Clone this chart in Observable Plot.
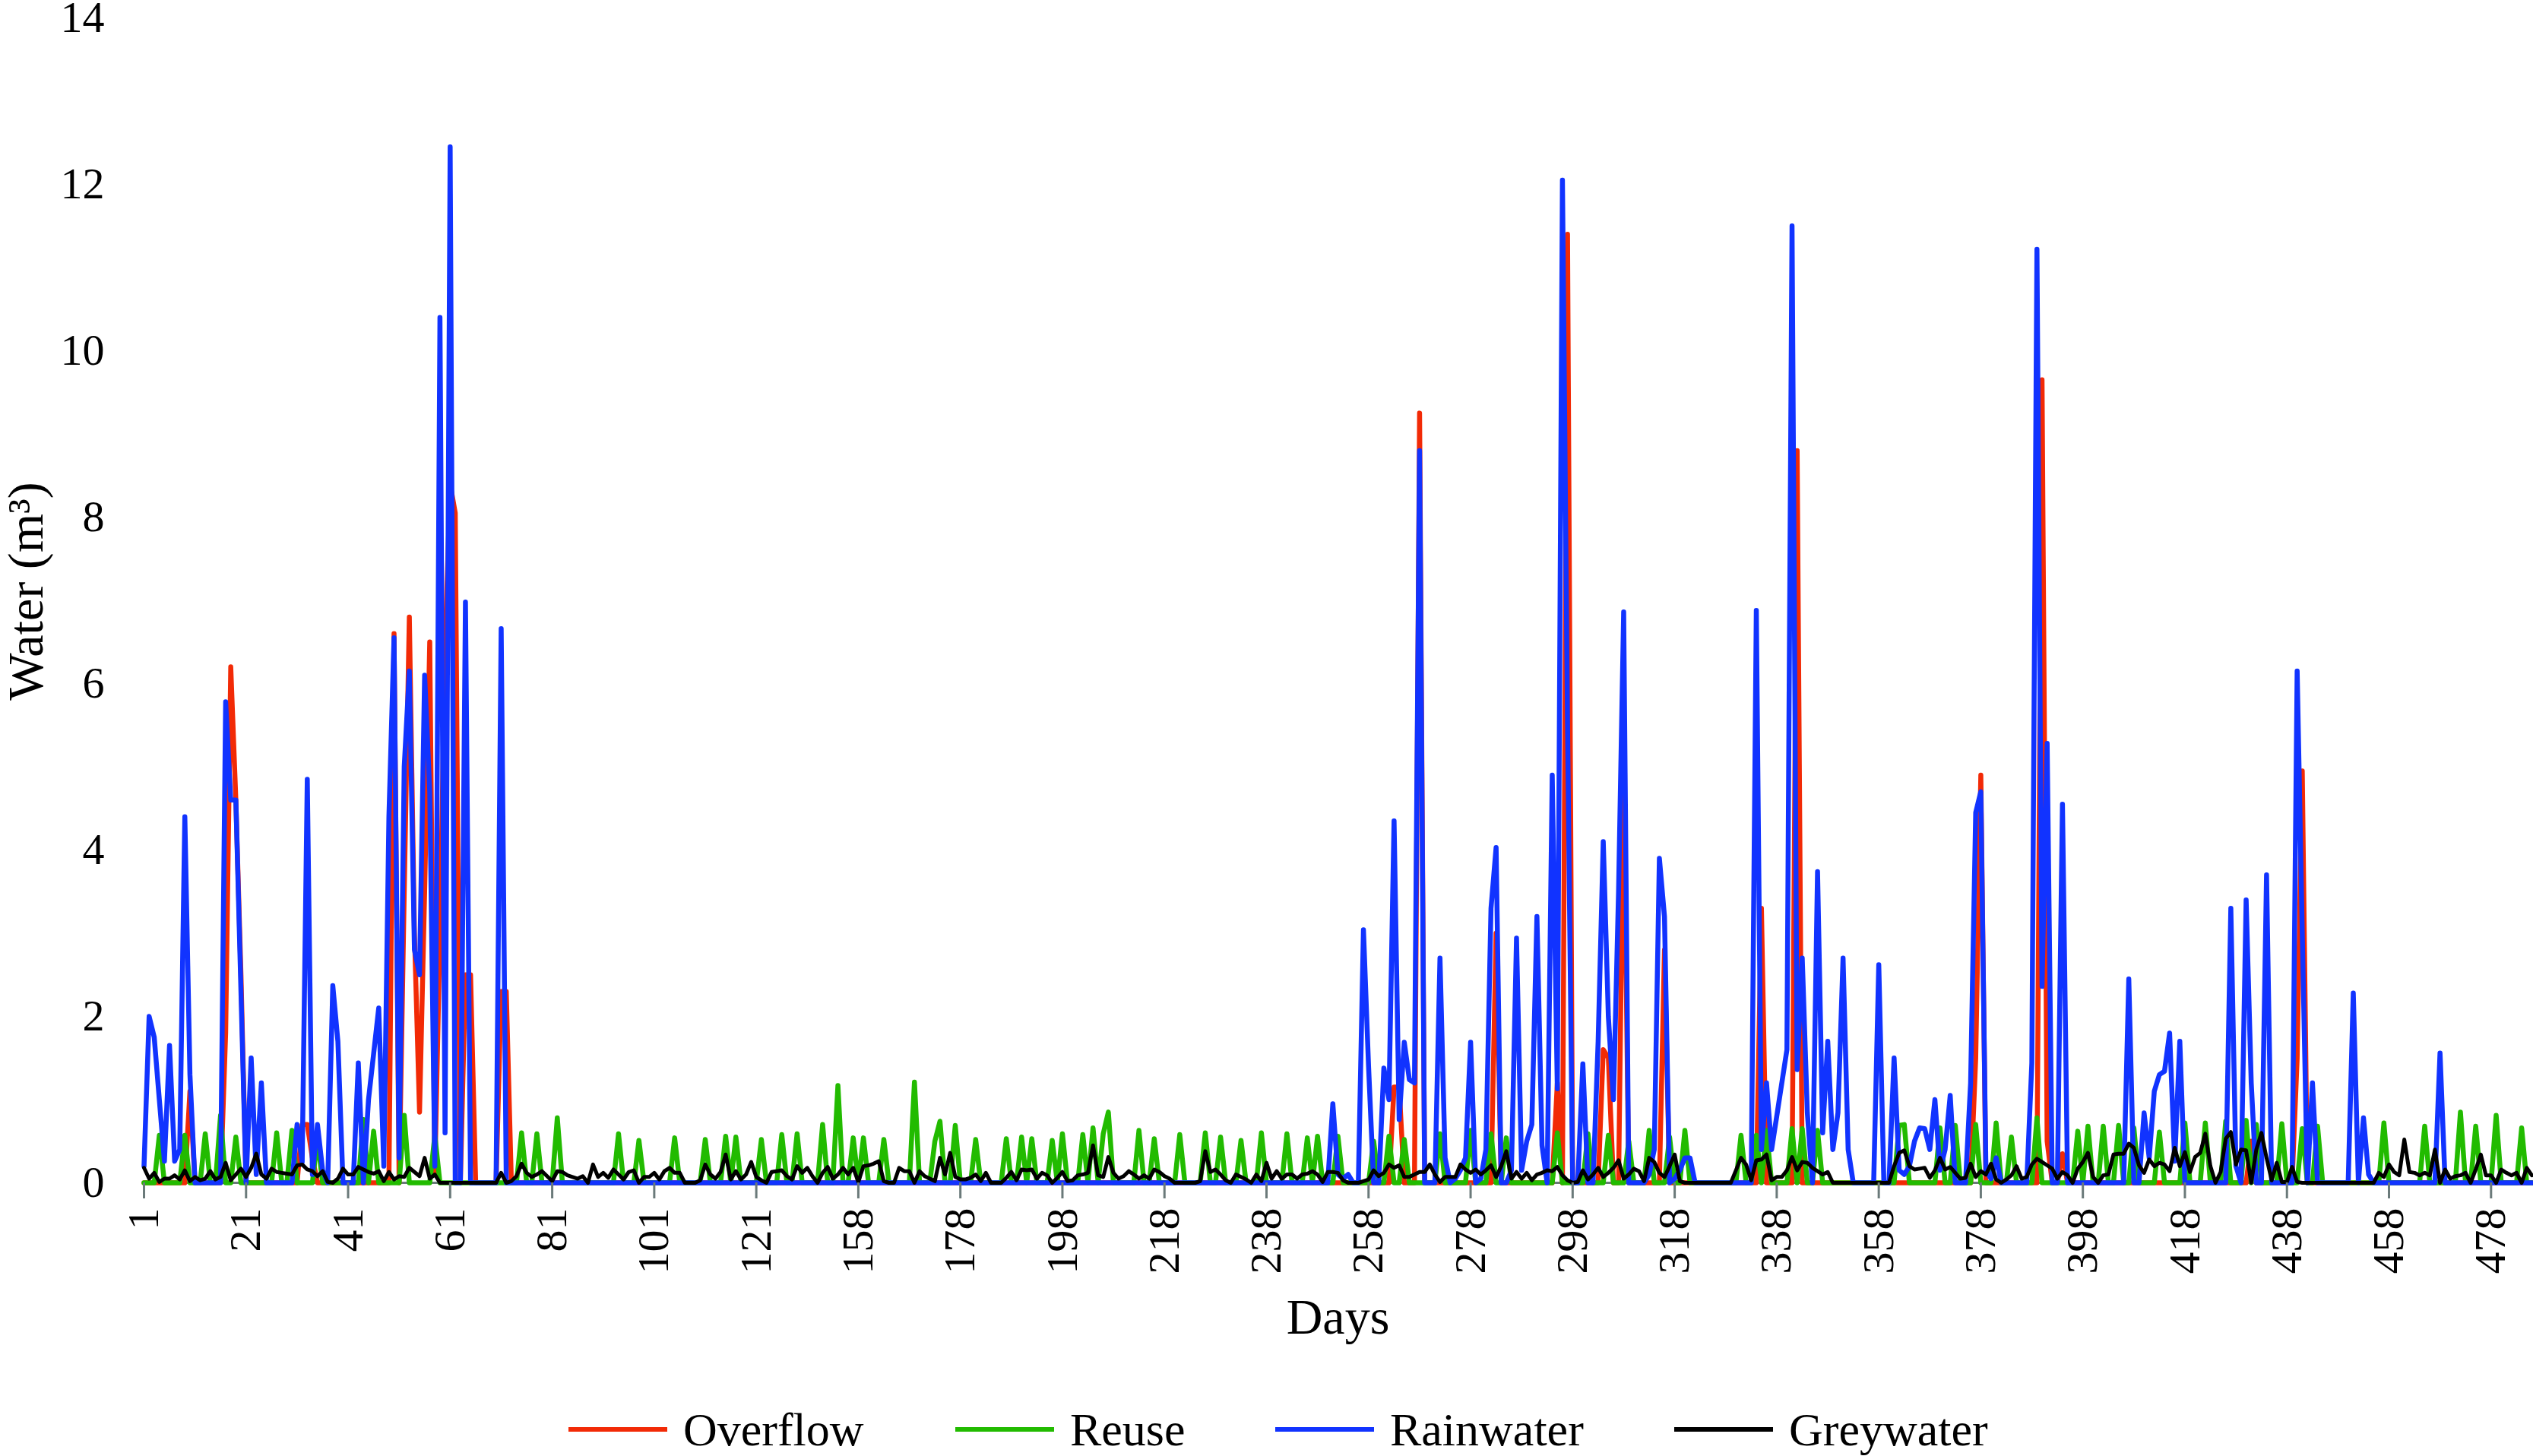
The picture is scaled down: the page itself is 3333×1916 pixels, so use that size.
<!DOCTYPE html>
<html>
<head>
<meta charset="utf-8">
<script src="https://cdn.jsdelivr.net/npm/d3@7"></script>
<script src="https://cdn.jsdelivr.net/npm/@observablehq/plot@0.6"></script>
<style>
  html, body { margin: 0; padding: 0; background: #fff; overflow: hidden; }
  body { font-family: "Liberation Serif", "Times New Roman", serif; }
  #wrap { position: relative; width: 3333px; height: 1916px; }
  #chart svg { display: block; }
  #legend { position: absolute; left: 0; top: 1800px; width: 3333px; height: 116px; }
  .item { position: absolute; top: 50px; height: 62px; display: flex; align-items: center; }
  .swatch { width: 130px; height: 6px; margin-right: 21px; }
  .label { font-size: 62px; line-height: 62px; color: #000; }
</style>
</head>
<body>
<div id="wrap">
  <div id="chart"></div>
  <div id="legend"></div>
</div>
<script>
// Daily water volumes (m³), one value per simulated day
const overflow = [
  0,0,0,0,0,0,0,0,0,1.1, 0,0,0,0,0,0,1.8,6.2,4.6,2.5,
  0,0,0,0,0,0,0,0,0,0, 0,0.7,0.7,0.3,0,0,0,0,0,0,
  0,0,0,0,0,0,0,0,0,6.6, 0,3.5,6.8,3.0,0.85,3.5,6.5,0.1,3.0,6.4,
  8.4,8.05,0,2.5,2.5,0,0,0,0,0, 2.3,2.3,0,0,0,0,0,0,0,0,
  0,0,0,0,0,0,0,0,0,0, 0,0,0,0,0,0,0,0,0,0,
  0,0,0,0,0,0,0,0,0,0, 0,0,0,0,0,0,0,0,0,0,
  0,0,0,0,0,0,0,0,0,0, 0,0,0,0,0,0,0,0,0,0,
  0,0,0,0,0,0,0,0,0,0, 0,0,0,0,0,0,0,0,0,0,
  0,0,0,0,0,0,0,0,0,0, 0,0,0,0,0,0,0,0,0,0,
  0,0,0,0,0,0,0,0,0,0, 0,0,0,0,0,0,0,0,0,0,
  0,0,0,0,0,0,0,0,0,0, 0,0,0,0,0,0,0,0,0,0,
  0,0,0,0,0,0,0,0,0,0, 0,0,0,0,0,0,0,0,0,0,
  0,0,0,0,0,1.15,1.15,0,0,0, 9.25,0,0,0,0,0,0,0,0,0,
  0,0,0,0,0,3.0,0,0,0,0, 0,0,0,0,0,0,0,1.2,0,11.4,
  0,0,0,0,0,0,1.6,1.5,0,0, 4.9,0,0,0,0,0,0,0,2.8,0,
  0,0,0,0,0,0,0,0,0,0, 0,0,0,0,0,0,0,3.3,0,0,
  0,0,0,0,8.8,0,0,0,0,0, 0,0,0,0,0,0,0,0,0,0,
  0,0,0,0,0,0,0,0,0,0, 0,0,0,0,0,0,0,0,0,1.5,
  4.9,0,0,0,0,0,0,0,0,0, 0,0,9.65,0.5,0,0,0.35,0,0,0,
  0,0,0,0,0,0,0,0,0,0, 0,0,0,0,0,0,0,0,0,0,
  0,0,0,0,0,0,0,0,0,0, 0,0,0,0.5,0,0,0,0,0,0,
  0,0,1.5,4.95,0,0,0,0,0,0, 0,0,0,0,0,0,0,0,0,0,
  0,0,0,0,0,0,0,0,0,0, 0,0,0,0,0,0,0,0,0,0,
  0,0,0,0,0,0,0,0,0
];

const reuse = [
  0,0,0,0.57,0,0,0,0,0.57,0, 0,0,0.59,0,0,0.81,0,0,0.55,0,
  0,0,0,0,0,0,0.6,0,0,0.63, 0,0,0,0,0.54,0,0,0,0,0,
  0,0,0,0.76,0,0.62,0,0,0,0, 0,0.81,0,0,0,0,0,0.57,0,0,
  0,0,0,0,0,0,0,0,0,0, 0,0,0,0,0.6,0,0,0.59,0,0,
  0,0.78,0,0,0,0,0,0,0,0, 0,0,0,0.59,0,0,0,0.51,0,0,
  0,0,0,0,0.54,0,0,0,0,0, 0.52,0,0,0,0.56,0,0.55,0,0,0,
  0,0.52,0,0,0,0.58,0,0,0.59,0, 0,0,0,0.7,0,0,1.17,0,0,0.54,
  0,0.54,0,0,0,0.52,0,0,0,0, 0,1.21,0,0,0,0.5,0.74,0,0,0.69,
  0,0,0,0.52,0,0,0,0,0,0.53, 0,0,0.55,0,0.53,0,0,0,0.51,0,
  0.59,0,0,0,0.58,0,0.66,0,0.59,0.85, 0,0,0,0,0,0.63,0,0,0.53,0,
  0,0,0,0.58,0,0,0,0,0.6,0, 0,0.55,0,0,0,0.51,0,0,0,0.6,
  0,0,0,0,0.59,0,0,0,0.54,0, 0.56,0,0,0,0.56,0,0,0,0,0,
  0,0.5,0,0,0.56,0,0,0.52,0,0, 0,0,0,0,0.59,0,0,0,0,0,
  0.63,0,0,0,0.59,0,0,0.54,0,0, 0,0,0,0,0,0,0,0.6,0,0,
  0,0,0,0.59,0,0,0,0.57,0,0, 0,0.5,0,0,0,0.63,0,0,0,0.55,
  0,0,0.63,0,0,0,0,0,0,0, 0,0,0,0.57,0,0,0.57,0,0.63,0,
  0,0,0,0.65,0,0.65,0,0,0.63,0, 0,0,0,0,0,0,0,0,0,0,
  0,0,0,0,0.69,0.7,0,0,0,0, 0,0,0.66,0,0,0.69,0,0,0,0.7,
  0,0,0,0.72,0,0,0.55,0,0,0, 0,0.78,0,0,0,0,0,0,0,0.62,
  0,0.68,0,0,0.68,0,0,0.69,0,0, 0.66,0,0,0,0,0.61,0,0,0,0,
  0.72,0,0,0,0.72,0,0,0,0.74,0, 0,0,0.75,0,0.7,0,0,0,0,0.71,
  0,0,0,0.65,0,0,0.68,0,0,0, 0,0,0,0,0,0,0,0,0,0.72,
  0,0,0,0,0,0,0,0.68,0,0, 0,0,0,0,0.85,0,0,0.68,0,0,
  0,0.81,0,0,0,0,0.66,0,0
];

const rainwater = [
  0.2,2.0,1.75,1.0,0.26,1.65,0.26,0.4,4.4,1.3, 0,0,0,0,0,0,5.78,4.6,4.6,2.3,
  0,1.5,0.1,1.2,0,0,0,0,0,0, 0.7,0.25,4.85,0.1,0.7,0.15,0,2.37,1.7,0,
  0,0,1.44,0,1.0,1.55,2.1,0.2,4.4,6.55, 0.3,5.0,6.15,2.8,2.5,6.1,4.7,0.2,10.4,0.6,
  12.45,0,0,6.98,0,0,0,0,0,0, 6.66,0,0,0,0,0,0,0,0,0,
  0,0,0,0,0,0,0,0,0,0, 0,0,0,0,0,0,0,0,0,0,
  0,0,0,0,0,0,0,0,0,0, 0,0,0,0,0,0,0,0,0,0,
  0,0,0,0,0,0,0,0,0,0, 0,0,0,0,0,0,0,0,0,0,
  0,0,0,0,0,0,0,0,0,0, 0,0,0,0,0,0,0,0,0,0,
  0,0,0,0,0,0,0,0,0,0, 0,0,0,0,0,0,0,0,0,0,
  0,0,0,0,0,0,0,0,0,0, 0,0,0,0,0,0,0,0,0,0,
  0,0,0,0,0,0,0,0,0,0, 0,0,0,0,0,0,0,0,0,0,
  0,0,0,0,0,0,0,0,0,0, 0,0,0,0.95,0.1,0.05,0.1,0,0,3.04,
  1.4,0,0,1.38,1.0,4.35,0.76,1.69,1.24,1.2, 8.8,0,0,0,2.7,0.3,0,0.05,0.15,0.3,
  1.69,0,0.05,0.4,3.3,4.03,0,0,0.15,2.94, 0.15,0.5,0.7,3.2,0.45,0,4.9,1.13,12.05,5.5,
  0,0,1.43,0,0,1.7,4.1,2.0,1.0,3.5, 6.86,0,0,0,0,0.1,0.4,3.9,3.2,0,
  0.05,0.15,0.3,0.3,0,0,0,0,0,0, 0,0,0,0,0,0,6.88,0.4,1.2,0.4,
  0.8,1.2,1.6,11.5,1.36,2.7,0.84,0,3.74,0.6, 1.7,0.4,0.84,2.7,0.4,0,0,0,0,0,
  2.62,0,0,1.5,0.15,0.1,0.2,0.5,0.66,0.65, 0.4,1.0,0.15,0.4,1.05,0,0,0,1.2,4.45,
  4.7,0.15,0.05,0.3,0,0,0,0,0,0, 1.44,11.22,2.36,5.28,0,0,4.55,0,0,0,
  0,0,0,0,0,0,0,0,0,2.45, 0,0,0.84,0.3,1.1,1.3,1.34,1.8,0.26,1.7,
  0,0,0,0,0,0,0,0,0,3.3, 0.2,0,3.4,1.2,0,0,3.7,0,0,0,
  0,0,6.15,3.0,0,1.2,0,0,0,0, 0,0,0,2.28,0,0.78,0.1,0,0,0,
  0,0,0,0,0,0,0,0,0,0, 1.56,0,0,0,0,0,0,0,0,0,
  0,0,0,0,0,0,0,0,0
];

const greywater = [
  0.18,0.05,0.12,0.01,0.05,0.05,0.09,0.04,0.15,0.02, 0.07,0.03,0.05,0.14,0.04,0.07,0.24,0.03,0.1,0.17,
  0.07,0.18,0.35,0.1,0.05,0.17,0.13,0.12,0.11,0.1, 0.21,0.22,0.16,0.14,0.08,0.14,0.01,0,0.05,0.17,
  0.1,0.1,0.19,0.16,0.13,0.11,0.14,0.02,0.13,0.04, 0.08,0.07,0.18,0.13,0.08,0.3,0.05,0.1,0,0,
  0,0,0,0,0,0,0,0,0,0, 0.12,0,0.02,0.08,0.23,0.12,0.07,0.1,0.14,0.08,
  0.02,0.14,0.13,0.09,0.07,0.05,0.08,0,0.22,0.07, 0.12,0.06,0.16,0.1,0.04,0.13,0.15,0,0.07,0.07,
  0.12,0.04,0.14,0.18,0.12,0.12,0,0,0,0.03, 0.22,0.1,0.05,0.13,0.34,0.04,0.14,0.04,0.1,0.25,
  0.07,0.03,0,0.13,0.14,0.15,0.08,0.04,0.2,0.12, 0.18,0.08,0,0.12,0.19,0.05,0.1,0.18,0.1,0.18,
  0.01,0.2,0.21,0.23,0.26,0.02,0,0,0.18,0.14, 0.14,0,0.14,0.08,0.05,0.02,0.3,0.1,0.36,0.07,
  0.04,0.04,0.06,0.1,0.02,0.12,0,0,0,0.06, 0.13,0.03,0.16,0.15,0.16,0.05,0.12,0.09,0,0.06,
  0.13,0.02,0.03,0.09,0.1,0.12,0.45,0.09,0.07,0.31, 0.12,0.05,0.08,0.14,0.1,0.05,0.09,0.05,0.16,0.13,
  0.08,0.05,0,0,0,0,0,0.02,0.38,0.13, 0.16,0.1,0.03,0,0.1,0.07,0.04,0,0.1,0.02,
  0.24,0.05,0.14,0.05,0.1,0.1,0.05,0.1,0.11,0.14, 0.1,0.01,0.13,0.13,0.12,0.03,0,0,0,0.02,
  0.04,0.15,0.08,0.12,0.22,0.18,0.21,0.07,0.07,0.1, 0.13,0.13,0.22,0.1,0.01,0.07,0.07,0.07,0.22,0.16,
  0.12,0.16,0.1,0.15,0.21,0.07,0.2,0.38,0.05,0.13, 0.05,0.12,0.03,0.1,0.12,0.15,0.14,0.19,0.09,0.03,
  0,0.01,0.15,0.04,0.1,0.18,0.07,0.12,0.18,0.27, 0.05,0.1,0.17,0.14,0.02,0.3,0.25,0.12,0.07,0.2,
  0.34,0.02,0,0,0,0,0,0,0,0, 0,0,0.15,0.3,0.22,0.03,0.27,0.28,0.34,0.03,
  0.07,0.07,0.15,0.31,0.15,0.25,0.24,0.18,0.14,0.1, 0.13,0,0,0,0,0,0,0,0,0,
  0,0,0,0.2,0.36,0.39,0.2,0.16,0.17,0.18, 0.06,0.15,0.3,0.16,0.19,0.12,0.05,0.06,0.23,0.07,
  0.14,0.1,0.23,0.04,0,0.04,0.09,0.2,0.05,0.07, 0.22,0.29,0.25,0.21,0.17,0.05,0.13,0.09,0,0.17,
  0.25,0.36,0.07,0,0.09,0.1,0.34,0.35,0.35,0.47, 0.42,0.21,0.12,0.28,0.2,0.24,0.22,0.14,0.42,0.2,
  0.37,0.13,0.31,0.36,0.59,0.2,0,0.13,0.53,0.61, 0.22,0.4,0.39,0,0.4,0.6,0.3,0.03,0.24,0.01,
  0.01,0.19,0.01,0,0,0,0,0,0,0, 0,0,0,0,0,0,0,0,0.12,0.07,
  0.22,0.13,0.09,0.52,0.13,0.12,0.09,0.12,0.09,0.4, 0,0.16,0.05,0.08,0.09,0.12,0,0.16,0.34,0.09,
  0.09,0,0.16,0.12,0.09,0.12,0,0.18,0.09
];

// Day labels shown under every 20th sample (the record skips some days after day 121)
const tickLabels = ["1","21","41","61","81","101","121","158","178","198","218","238",
                    "258","278","298","318","338","358","378","398","418","438","458","478"];
const tickStep = 20;
const yTicks = [0, 2, 4, 6, 8, 10, 12, 14];

const seriesNames = ["Overflow", "Reuse", "Rainwater", "Greywater"];
const seriesColors = ["#f22a06", "#22bb00", "#1133ff", "#000000"];
const seriesWidths = [6.5, 6.5, 6.5, 5];
const seriesValues = [overflow, reuse, rainwater, greywater];

const yTitle = "Water (m³)";
const xTitle = "Days";
const axisGray = "#6b7a7a";

const N = rainwater.length;
const tickPositions = tickLabels.map((_, k) => k * tickStep);

const chart = Plot.plot({
  width: 3333,
  height: 1800,
  marginLeft: 189,
  marginRight: 2,
  marginTop: 23,
  marginBottom: 244,
  style: { fontFamily: '"Liberation Serif", "Times New Roman", serif', background: "white", color: "black", overflow: "visible" },
  x: { domain: [0, N - 1] },
  y: { domain: [0, 14] },
  marks: [
    Plot.ruleY([0], { stroke: axisGray, strokeWidth: 3 }),
    ...seriesValues.map((values, s) =>
      Plot.lineY(values, {
        stroke: seriesColors[s],
        strokeWidth: seriesWidths[s],
        strokeLinejoin: "round"
      })
    ),
    Plot.axisX(tickPositions, {
      tickFormat: (d) => tickLabels[Math.round(d / tickStep)],
      tickRotate: -90,
      tickSize: 21,
      tickPadding: 12,
      stroke: axisGray,
      strokeWidth: 3,
      fontSize: 58,
      label: null
    }),
    Plot.axisY(yTicks, { tickSize: 0, tickPadding: 52, fontSize: 58, tickFormat: (d) => String(d), label: null }),
    Plot.text([yTitle], { text: (d) => d, frameAnchor: "left", textAnchor: "middle", lineAnchor: "middle", rotate: -90, dx: -155, dy: -12, fontSize: 66 }),
    Plot.text([xTitle], { text: (d) => d, frameAnchor: "bottom", dy: 198, fontSize: 66 })
  ]
});
document.getElementById("chart").append(chart);

// Legend row below the chart
const legendLeft = [748, 1257, 1678, 2203];
const legend = document.getElementById("legend");
seriesNames.forEach((name, s) => {
  const item = document.createElement("div");
  item.className = "item";
  item.style.left = legendLeft[s] + "px";
  const sw = document.createElement("div");
  sw.className = "swatch";
  sw.style.background = seriesColors[s];
  const lb = document.createElement("span");
  lb.className = "label";
  lb.textContent = name;
  item.append(sw, lb);
  legend.append(item);
});
</script>
</body>
</html>
